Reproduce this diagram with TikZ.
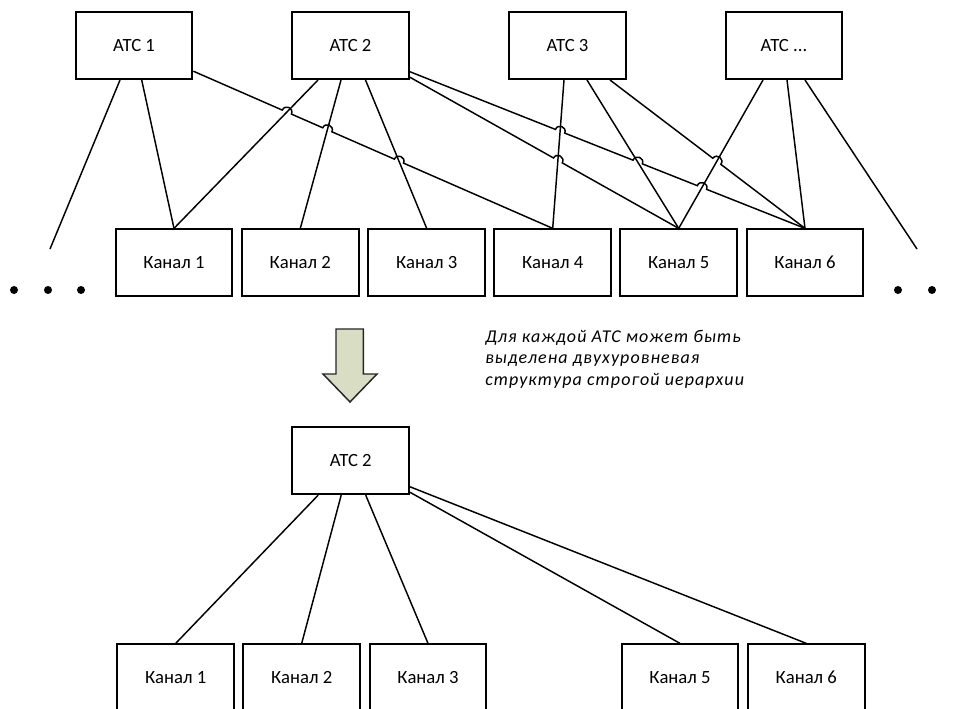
\documentclass[tikz,border=0pt]{standalone}
\usepackage{fontspec}
\setmainfont{Carlito}
\newfontfamily\notefont[LetterSpace=6]{Carlito}
\usetikzlibrary{calc,intersections}

% a hop: two end points on the line and two control points of a half circle above it
\newcommand\hopmark[3]{%
  \coordinate (#1a) at ($(#1)!3.75pt!(#2)$);
  \coordinate (#1b) at ($(#1)!3.75pt!(#3)$);
  \coordinate (#1c) at ($(#1a)!5pt!90:(#1)$);
  \coordinate (#1d) at ($(#1b)!5pt!-90:(#1)$);}
\newcommand\hop[1]{-- (#1a) .. controls (#1c) and (#1d) .. (#1b)}

\begin{document}
\begin{tikzpicture}[x=0.75pt,y=-0.75pt,
  box/.style={draw=black, line width=1.5pt, minimum width=87.5pt,
    minimum height=50pt, inner sep=0pt, font=\fontsize{14}{17}\selectfont},
  conn/.style={line width=1.1pt},
  dot/.style={fill=black, circle, inner sep=0pt, minimum size=6pt},
  note/.style={font=\notefont\fontsize{13.5}{16.1}\selectfont\itshape, align=left,
    anchor=base west, inner sep=0pt},
  bigarrow/.style={draw=black!85, line width=1.1pt, fill={rgb,255:red,216;green,221;blue,196}}]
\useasboundingbox (0,0) rectangle (960,709);
\clip (0,0) rectangle (960,709);

% exchanges
\node[box] (atc1) at (134,45.7)   {АТС 1};
\node[box] (atc2) at (350.5,45.7) {АТС 2};
\node[box] (atc3) at (567.5,45.7) {АТС 3};
\node[box] (atcn) at (784,45.7)   {АТС ...};

% channels
\node[box] (k1) at (174,262.7)   {Канал 1};
\node[box] (k2) at (300.3,262.7) {Канал 2};
\node[box] (k3) at (426.7,262.7) {Канал 3};
\node[box] (k4) at (552.7,262.7) {Канал 4};
\node[box] (k5) at (678.7,262.7) {Канал 5};
\node[box] (k6) at (805,262.7)   {Канал 6};

% dots at both ends of the channel row
\node[dot] (dl1) at (14,290) {};
\node[dot] (dl2) at (48,290) {};
\node[dot] (dl3) at (81,290) {};
\node[dot] (dr1) at (898,290) {};
\node[dot] (dr2) at (932,290) {};

% attachment points on the exchanges
\coordinate (s1a) at ($(atc1.south)+(-14,0)$);
\coordinate (s1b) at ($(atc1.south)+(7.7,0)$);
\coordinate (s1c) at ($(atc1.east)+(0,25.5)$);
\coordinate (s2a) at ($(atc2.south)+(-32.5,0)$);
\coordinate (s2b) at ($(atc2.south)+(-9.5,0)$);
\coordinate (s2c) at ($(atc2.south)+(15,0)$);
\coordinate (s2d) at ($(atc2.east)+(0,26)$);
\coordinate (s2e) at ($(atc2.east)+(0,31.5)$);
\coordinate (s3a) at ($(atc3.south)+(-3.5,0)$);
\coordinate (s3b) at ($(atc3.south)+(19.5,0)$);
\coordinate (s3c) at ($(atc3.south)+(42.5,0)$);
\coordinate (sna) at ($(atcn.south)+(-21,0)$);
\coordinate (snb) at ($(atcn.south)+(3,0)$);
\coordinate (snc) at ($(atcn.south)+(21,0)$);
\coordinate (e1) at (50,249);
\coordinate (e2) at (917,249);

% plain links
\draw[conn] (s1a) -- (e1);
\draw[conn] (s1b) -- (k1.north);
\draw[conn, name path=p21] (s2a) -- (k1.north);
\draw[conn, name path=p22] (s2b) -- (k2.north);
\draw[conn, name path=p23] (s2c) -- (k3.north);
\draw[conn, name path=p34] (s3a) -- (k4.north);
\draw[conn, name path=p35] (s3b) -- (k5.north);
\draw[conn, name path=pn5] (sna) -- (k5.north);
\draw[conn] (snb) -- (k6.north);
\draw[conn] (snc) -- (e2);

% links that hop over the others
\path[name path=h14] (s1c) -- (k4.north);
\path[name path=h25] (s2e) -- (k5.north);
\path[name path=h26] (s2d) -- (k6.north);
\path[name path=h36] (s3c) -- (k6.north);
\path[name intersections={of=h14 and p21, by=xa}];
\path[name intersections={of=h14 and p22, by=xb}];
\path[name intersections={of=h14 and p23, by=xc}];
\path[name intersections={of=h25 and p34, by=xd}];
\path[name intersections={of=h26 and p34, by=xe}];
\path[name intersections={of=h26 and p35, by=xf}];
\path[name intersections={of=h26 and pn5, by=xg}];
\path[name intersections={of=h36 and pn5, by=xh}];
\hopmark{xa}{s1c}{k4.north}
\hopmark{xb}{s1c}{k4.north}
\hopmark{xc}{s1c}{k4.north}
\hopmark{xd}{s2e}{k5.north}
\hopmark{xe}{s2d}{k6.north}
\hopmark{xf}{s2d}{k6.north}
\hopmark{xg}{s2d}{k6.north}
\hopmark{xh}{s3c}{k6.north}
\draw[conn] (s1c) \hop{xa} \hop{xb} \hop{xc} -- (k4.north);
\draw[conn] (s2e) \hop{xd} -- (k5.north);
\draw[conn] (s2d) \hop{xe} \hop{xf} \hop{xg} -- (k6.north);
\draw[conn] (s3c) \hop{xh} -- (k6.north);

% block arrow
\draw[bigarrow] (336,329) -- (363.3,329) -- (363.3,374) -- (377,374)
  -- (350,402) -- (323,374) -- (336,374) -- cycle;

% caption (anchored at the baseline of its last line)
\node[note] (txt) at (485,385) {Для каждой АТС может быть\\
  выделена двухуровневая\\структура строгой иерархии};

% one exchange with its own channels
\node[box] (batc) at (350.7,460.8) {АТС 2};
\node[box] (b1) at (175.7,677.7) {Канал 1};
\node[box] (b2) at (301.7,677.7) {Канал 2};
\node[box] (b3) at (428,677.7)   {Канал 3};
\node[box] (b5) at (680,677.7)   {Канал 5};
\node[box] (b6) at (806.3,677.7) {Канал 6};

\coordinate (ta) at ($(batc.south)+(-32.5,0)$);
\coordinate (tb) at ($(batc.south)+(-9.5,0)$);
\coordinate (tc) at ($(batc.south)+(15,0)$);
\coordinate (td) at ($(batc.east)+(0,26)$);
\coordinate (te) at ($(batc.east)+(0,31.5)$);
\draw[conn] (ta) -- (b1.north);
\draw[conn] (tb) -- (b2.north);
\draw[conn] (tc) -- (b3.north);
\draw[conn] (te) -- (b5.north);
\draw[conn] (td) -- (b6.north);
\end{tikzpicture}
\end{document}
